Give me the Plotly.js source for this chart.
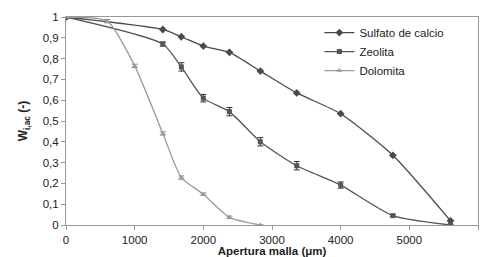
<!DOCTYPE html>
<html><head><meta charset="utf-8">
<script src="https://cdn.plot.ly/plotly-3.0.1.min.js"></script>
<style>html,body{margin:0;padding:0;background:#fff}#c{width:489px;height:257px}</style>
</head><body><div id="c"></div>
<script>
const sulfatoX = [0, 1410, 1680, 2000, 2380, 2830, 3360, 4000, 4760, 5600];
const sulfatoY = [1, 0.94, 0.905, 0.86, 0.83, 0.74, 0.635, 0.535, 0.335, 0.02];
const zeolitaX = [0, 1410, 1680, 2000, 2380, 2830, 3360, 4000, 4760, 5600];
const zeolitaY = [1, 0.87, 0.76, 0.61, 0.545, 0.40, 0.285, 0.192, 0.045, 0.0];
const zeolitaErr = [0, 0.01, 0.02, 0.018, 0.02, 0.02, 0.02, 0.015, 0.005, 0.0];
const dolomitaX = [0, 600, 1000, 1410, 1680, 2000, 2380, 2830];
const dolomitaY = [1, 0.98, 0.765, 0.44, 0.228, 0.148, 0.037, 0.0];
const dolomitaErr = [0, 0.008, 0.008, 0.008, 0.008, 0.006, 0.006, 0];

const traces = [
  {x: sulfatoX, y: sulfatoY, name: 'Sulfato de calcio', mode: 'lines+markers',
   line: {color: '#4a4a4a', width: 1.3, shape: 'spline', smoothing: 0.6},
   marker: {symbol: 'diamond', size: 6, color: '#4a4a4a'}},
  {x: zeolitaX, y: zeolitaY, name: 'Zeolita', mode: 'lines+markers',
   line: {color: '#555', width: 1.3, shape: 'spline', smoothing: 0.6},
   marker: {symbol: 'square', size: 5, color: '#555'},
   error_y: {type: 'data', array: zeolitaErr, color: '#333', thickness: 1, width: 3}},
  {x: dolomitaX, y: dolomitaY, name: 'Dolomita', mode: 'lines+markers',
   line: {color: '#9a9a9a', width: 1.3, shape: 'spline', smoothing: 0.6},
   marker: {symbol: 'triangle-up', size: 5, color: '#9a9a9a'},
   error_y: {type: 'data', array: dolomitaErr, color: '#888', thickness: 1, width: 3}}
];

const layout = {
  width: 489, height: 257,
  margin: {l: 66, r: 11, t: 17, b: 32},
  paper_bgcolor: '#fff', plot_bgcolor: '#fff',
  separators: ',.',
  font: {family: 'Liberation Sans, Arial, sans-serif', size: 11.5, color: '#222'},
  showlegend: true,
  legend: {x: 0.615, y: 0.995, xanchor: 'left', yanchor: 'top', bgcolor: 'rgba(0,0,0,0)',
           font: {size: 11.5}, tracegroupgap: 0, itemwidth: 30},
  xaxis: {range: [0, 6000], dtick: 1000, showgrid: false, zeroline: false,
          showline: true, mirror: true, linecolor: '#999', linewidth: 1,
          ticks: 'outside', ticklen: 4, tickcolor: '#999',
          title: {text: '<b>Apertura malla (μm)</b>', standoff: 0, font: {size: 11.5}}},
  yaxis: {range: [0, 1], dtick: 0.1, showgrid: false, zeroline: false,
          showline: true, mirror: true, linecolor: '#999', linewidth: 1,
          ticks: 'outside', ticklen: 4, tickcolor: '#999',
          title: {text: '<b>W<sub>i,ac</sub> (-)</b>', standoff: 12, font: {size: 12}}}
};
Plotly.newPlot('c', traces, layout, {displayModeBar: false, staticPlot: true});
</script></body></html>
